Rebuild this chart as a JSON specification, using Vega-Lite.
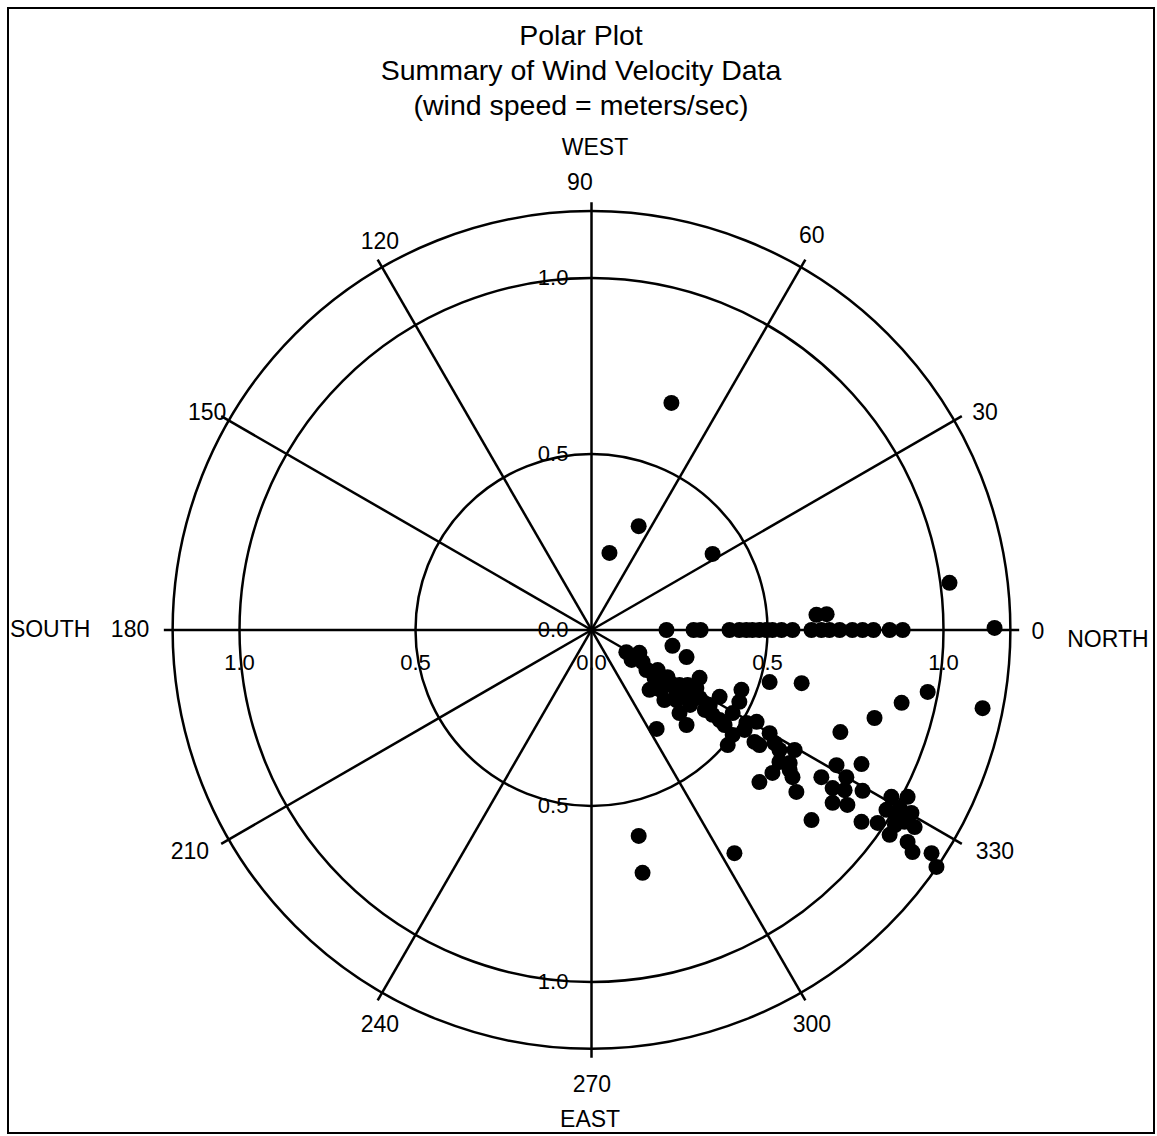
{
  "$schema": "https://vega.github.io/schema/vega-lite/v6.json",
  "width": 1146,
  "height": 1125,
  "autosize": {"type": "none"},
  "padding": {"left": 8, "top": 8, "right": 3, "bottom": 3},
  "background": "white",
  "config": {
    "view": {"stroke": "black", "strokeWidth": 2},
    "font": "Liberation Sans",
    "title": {"font": "Liberation Sans", "fontSize": 28.5, "fontWeight": "normal", "color": "black", "lineHeight": 35}
  },
  "title": {
    "text": ["Polar Plot", "Summary of Wind Velocity Data", "(wind speed = meters/sec)"],
    "anchor": "middle",
    "baseline": "bottom",
    "offset": -141
  },
  "datasets": {
    "wind": [
      {"x": 0.213, "y": 0}, {"x": 0.290, "y": 0}, {"x": 0.310, "y": 0}, {"x": 0.392, "y": 0},
      {"x": 0.420, "y": 0}, {"x": 0.440, "y": 0}, {"x": 0.457, "y": 0}, {"x": 0.477, "y": 0},
      {"x": 0.497, "y": 0}, {"x": 0.514, "y": 0}, {"x": 0.540, "y": 0}, {"x": 0.571, "y": 0},
      {"x": 0.625, "y": 0}, {"x": 0.653, "y": 0}, {"x": 0.676, "y": 0}, {"x": 0.705, "y": 0},
      {"x": 0.741, "y": 0}, {"x": 0.770, "y": 0}, {"x": 0.801, "y": 0}, {"x": 0.847, "y": 0},
      {"x": 0.884, "y": 0}, {"x": 0.639, "y": 0.043}, {"x": 0.668, "y": 0.045},
      {"x": 1.145, "y": 0.006}, {"x": 1.017, "y": 0.134},
      {"x": 0.597, "y": -0.151}, {"x": 0.955, "y": -0.176}, {"x": 0.881, "y": -0.207},
      {"x": 0.804, "y": -0.250}, {"x": 1.111, "y": -0.222}, {"x": 0.707, "y": -0.290},
      {"x": 0.230, "y": -0.045}, {"x": 0.270, "y": -0.077}, {"x": 0.099, "y": -0.063},
      {"x": 0.136, "y": -0.065}, {"x": 0.114, "y": -0.085}, {"x": 0.145, "y": -0.091},
      {"x": 0.156, "y": -0.114}, {"x": 0.188, "y": -0.114}, {"x": 0.179, "y": -0.136},
      {"x": 0.216, "y": -0.134}, {"x": 0.213, "y": -0.156}, {"x": 0.196, "y": -0.170},
      {"x": 0.250, "y": -0.156}, {"x": 0.273, "y": -0.156}, {"x": 0.307, "y": -0.136},
      {"x": 0.241, "y": -0.179}, {"x": 0.270, "y": -0.193}, {"x": 0.364, "y": -0.190},
      {"x": 0.426, "y": -0.170}, {"x": 0.420, "y": -0.204}, {"x": 0.506, "y": -0.148},
      {"x": 0.241, "y": -0.199}, {"x": 0.307, "y": -0.193}, {"x": 0.298, "y": -0.165},
      {"x": 0.250, "y": -0.236}, {"x": 0.270, "y": -0.270}, {"x": 0.185, "y": -0.281},
      {"x": 0.364, "y": -0.256}, {"x": 0.401, "y": -0.236}, {"x": 0.401, "y": -0.298},
      {"x": 0.440, "y": -0.264}, {"x": 0.469, "y": -0.261}, {"x": 0.463, "y": -0.318},
      {"x": 0.506, "y": -0.293}, {"x": 0.520, "y": -0.321}, {"x": 0.534, "y": -0.375},
      {"x": 0.514, "y": -0.406}, {"x": 0.563, "y": -0.378}, {"x": 0.577, "y": -0.341},
      {"x": 0.477, "y": -0.432}, {"x": 0.571, "y": -0.418}, {"x": 0.582, "y": -0.460},
      {"x": 0.563, "y": -0.398}, {"x": 0.653, "y": -0.418}, {"x": 0.696, "y": -0.384},
      {"x": 0.724, "y": -0.418}, {"x": 0.767, "y": -0.381}, {"x": 0.685, "y": -0.449},
      {"x": 0.719, "y": -0.455}, {"x": 0.770, "y": -0.457}, {"x": 0.852, "y": -0.474},
      {"x": 0.898, "y": -0.474}, {"x": 0.685, "y": -0.491}, {"x": 0.727, "y": -0.497},
      {"x": 0.625, "y": -0.540}, {"x": 0.767, "y": -0.545}, {"x": 0.813, "y": -0.548},
      {"x": 0.838, "y": -0.511}, {"x": 0.869, "y": -0.531}, {"x": 0.909, "y": -0.520},
      {"x": 0.918, "y": -0.560}, {"x": 0.889, "y": -0.545}, {"x": 0.847, "y": -0.582},
      {"x": 0.898, "y": -0.602}, {"x": 0.912, "y": -0.631}, {"x": 0.966, "y": -0.634},
      {"x": 0.980, "y": -0.673}, {"x": 0.134, "y": -0.585}, {"x": 0.145, "y": -0.690},
      {"x": 0.406, "y": -0.634}, {"x": 0.227, "y": 0.645}, {"x": 0.134, "y": 0.295},
      {"x": 0.051, "y": 0.219}, {"x": 0.344, "y": 0.216},
      {"x": 0.280, "y": -0.213}, {"x": 0.322, "y": -0.227}, {"x": 0.344, "y": -0.241},
      {"x": 0.378, "y": -0.270}, {"x": 0.435, "y": -0.284}, {"x": 0.477, "y": -0.327},
      {"x": 0.534, "y": -0.341}, {"x": 0.165, "y": -0.170}, {"x": 0.207, "y": -0.199},
      {"x": 0.336, "y": -0.213}, {"x": 0.387, "y": -0.327}, {"x": 0.876, "y": -0.506},
      {"x": 0.862, "y": -0.554}
    ],
    "spokes": [
      {"angle": 0, "sx": 0, "sy": 0, "ex": 1.215, "ey": 0},
      {"angle": 30, "sx": 0, "sy": 0, "ex": 1.052, "ey": 0.6075},
      {"angle": 60, "sx": 0, "sy": 0, "ex": 0.6075, "ey": 1.052},
      {"angle": 90, "sx": 0, "sy": 0, "ex": 0, "ey": 1.215},
      {"angle": 120, "sx": 0, "sy": 0, "ex": -0.6075, "ey": 1.052},
      {"angle": 150, "sx": 0, "sy": 0, "ex": -1.052, "ey": 0.6075},
      {"angle": 180, "sx": 0, "sy": 0, "ex": -1.215, "ey": 0},
      {"angle": 210, "sx": 0, "sy": 0, "ex": -1.052, "ey": -0.6075},
      {"angle": 240, "sx": 0, "sy": 0, "ex": -0.6075, "ey": -1.052},
      {"angle": 270, "sx": 0, "sy": 0, "ex": 0, "ey": -1.215},
      {"angle": 300, "sx": 0, "sy": 0, "ex": 0.6075, "ey": -1.052},
      {"angle": 330, "sx": 0, "sy": 0, "ex": 1.052, "ey": -0.6075}
    ],
    "rings": [{"r": 0.5, "cx": 0, "cy": 0}, {"r": 1.0, "cx": 0, "cy": 0}, {"r": 1.19, "cx": 0, "cy": 0}],
    "angleLabels": [
      {"label": "0", "x": 1.268, "y": -0.006},
      {"label": "30", "x": 1.118, "y": 0.616},
      {"label": "60", "x": 0.626, "y": 1.12},
      {"label": "90", "x": -0.033, "y": 1.27},
      {"label": "120", "x": -0.601, "y": 1.102},
      {"label": "150", "x": -1.092, "y": 0.616},
      {"label": "180", "x": -1.311, "y": 0},
      {"label": "210", "x": -1.141, "y": -0.631},
      {"label": "240", "x": -0.601, "y": -1.122},
      {"label": "270", "x": 0.001, "y": -1.293},
      {"label": "300", "x": 0.626, "y": -1.122},
      {"label": "330", "x": 1.146, "y": -0.631},
      {"label": "WEST", "x": 0.010, "y": 1.369},
      {"label": "SOUTH", "x": -1.538, "y": 0},
      {"label": "NORTH", "x": 1.467, "y": -0.028},
      {"label": "EAST", "x": -0.004, "y": -1.392}
    ],
    "radLabels": [
      {"label": "1.0", "x": -1.0, "y": -0.094},
      {"label": "0.5", "x": -0.5, "y": -0.094},
      {"label": "0.0", "x": 0.0, "y": -0.094},
      {"label": "0.5", "x": 0.5, "y": -0.094},
      {"label": "1.0", "x": 1.0, "y": -0.094},
      {"label": "1.0", "x": -0.109, "y": 1.0},
      {"label": "0.5", "x": -0.109, "y": 0.5},
      {"label": "0.0", "x": -0.109, "y": 0.0},
      {"label": "0.5", "x": -0.109, "y": -0.5},
      {"label": "1.0", "x": -0.109, "y": -1.0}
    ]
  },
  "layer": [
    {
      "data": {"name": "rings"},
      "mark": {"type": "point", "shape": "circle", "filled": false, "stroke": "black", "strokeWidth": 2.5, "opacity": 1},
      "encoding": {
        "x": {"field": "cx", "type": "quantitative", "scale": {"domain": [-1.6577, 1.598], "nice": false, "zero": false}, "axis": null},
        "y": {"field": "cy", "type": "quantitative", "scale": {"domain": [-1.429, 1.767], "nice": false, "zero": false}, "axis": null},
        "size": {"field": "r", "type": "quantitative", "legend": null, "scale": {"type": "pow", "exponent": 2, "domain": [0, 1], "range": [0, 495616], "zero": true}}
      }
    },
    {
      "data": {"name": "spokes"},
      "mark": {"type": "rule", "stroke": "black", "strokeWidth": 2.5},
      "encoding": {
        "x": {"field": "sx", "type": "quantitative"},
        "y": {"field": "sy", "type": "quantitative"},
        "x2": {"field": "ex"},
        "y2": {"field": "ey"}
      }
    },
    {
      "data": {"name": "radLabels"},
      "mark": {"type": "text", "fontSize": 22, "color": "black", "align": "center", "baseline": "middle", "font": "Liberation Sans"},
      "encoding": {
        "x": {"field": "x", "type": "quantitative"},
        "y": {"field": "y", "type": "quantitative"},
        "text": {"field": "label"}
      }
    },
    {
      "data": {"name": "angleLabels"},
      "mark": {"type": "text", "fontSize": 23, "color": "black", "align": "center", "baseline": "middle", "font": "Liberation Sans"},
      "encoding": {
        "x": {"field": "x", "type": "quantitative"},
        "y": {"field": "y", "type": "quantitative"},
        "text": {"field": "label"}
      }
    },
    {
      "data": {"name": "wind"},
      "mark": {"type": "point", "shape": "circle", "filled": true, "color": "black", "opacity": 1, "size": 256},
      "encoding": {
        "x": {"field": "x", "type": "quantitative"},
        "y": {"field": "y", "type": "quantitative"}
      }
    }
  ]
}
